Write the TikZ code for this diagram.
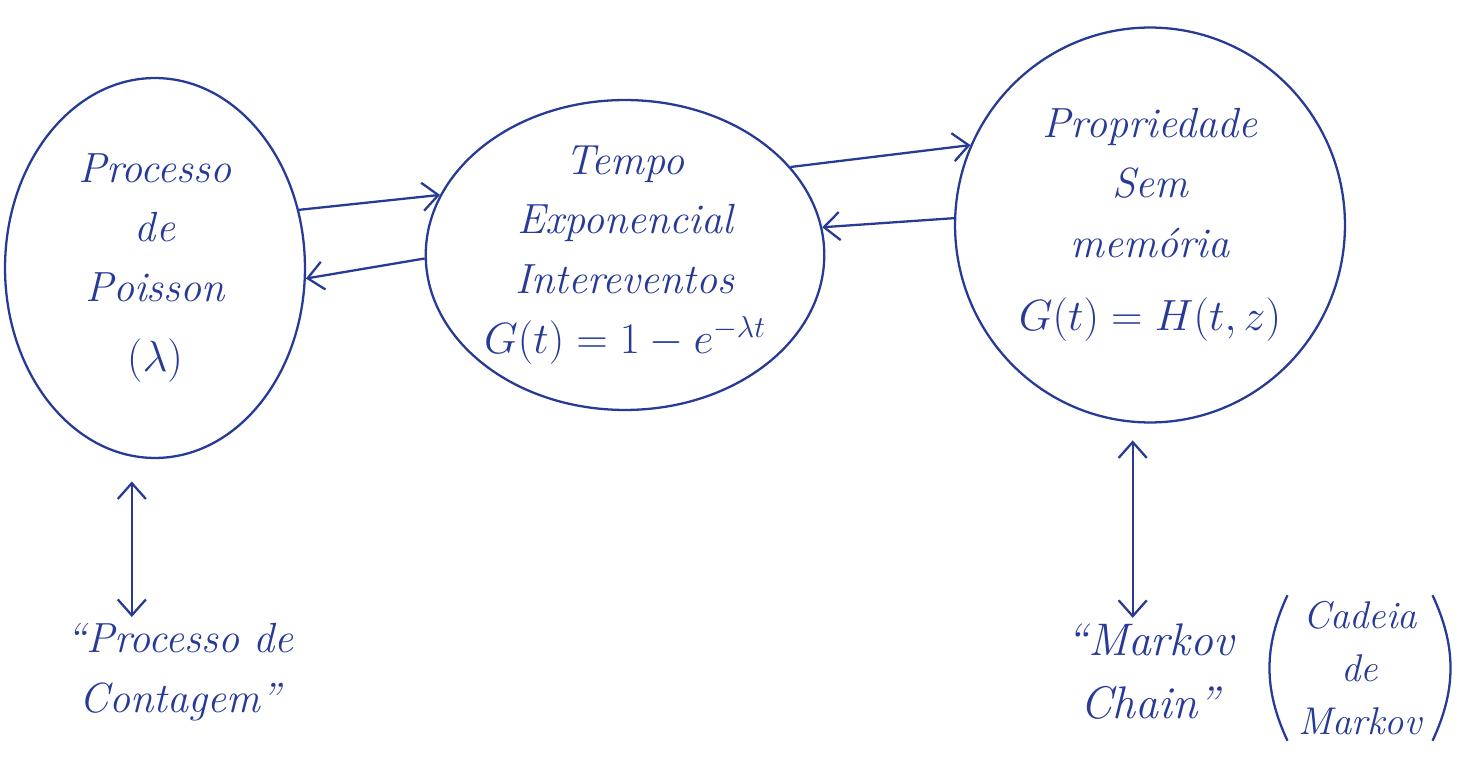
\documentclass[tikz,border=0pt]{standalone}
\definecolor{inkblue}{RGB}{38, 58, 150}
\usepackage{tikz}
\usetikzlibrary{shapes, arrows.meta, positioning, calc}
\usepackage{amsmath, amssymb}

\begin{document}
\begin{tikzpicture}[x=0.02cm, y=-0.02cm, inkblue,
  blob/.style={draw=inkblue, ellipse, line width=1.3pt, align=center, inner sep=0pt, font=\fontsize{24}{34}\selectfont\itshape},
  note/.style={align=center, font=\fontsize{24}{34}\selectfont\itshape},
  link/.style={-{Straight Barb[length=9pt, width=16pt]}, line width=1.3pt},
  both/.style={{Straight Barb[length=9pt, width=16pt]}-{Straight Barb[length=9pt, width=16pt]}, line width=1.3pt}]
  \useasboundingbox (0,0) rectangle (1474,766);

  % the three ideas
  \node[blob, minimum width=6cm, minimum height=7.6cm] (poisson) at (155,268) {Processo\\de\\Poisson\\[6pt]$(\lambda)$};
  \node[blob, minimum width=7.4cm, minimum height=6.2cm] (tempo) at (625,255) {Tempo\\Exponencial\\Intereventos\\$G(t)=1-e^{-\lambda t}$};
  \node[blob, minimum width=7.8cm, minimum height=7.9cm] (semmem) at (1150,225) {Propriedade\\Sem\\mem\'oria\\[8pt]$G(t)=H(t,z)$};

  % names below
  \node[note] (contagem) at (180,672) {``Processo de\\Contagem''};
  \node[note, font=\fontsize{26}{36}\selectfont\itshape] (markov) at (1150,672) {``Markov\\Chain''};
  \node[note, font=\fontsize{22}{30}\selectfont\itshape, inner xsep=6pt] (cadeia) at (1360,668) {Cadeia\\de\\Markov};
  \draw[line width=1.3pt] (cadeia.north west) to[bend right=25] (cadeia.south west);
  \draw[line width=1.3pt] (cadeia.north east) to[bend left=25] (cadeia.south east);

  \draw[link] (poisson.22) -- (tempo.162);
  \draw[link] (tempo.181) -- (poisson.356);
  \draw[link] (tempo.28) -- (semmem.156);
  \draw[link] (semmem.178) -- (tempo.8);
  \draw[both, shorten <=14pt] (poisson.263) -- (contagem.north -| poisson.263);
  \draw[both, shorten <=10pt] (semmem.265) -- (markov.north -| semmem.265);
\end{tikzpicture}
\end{document}
